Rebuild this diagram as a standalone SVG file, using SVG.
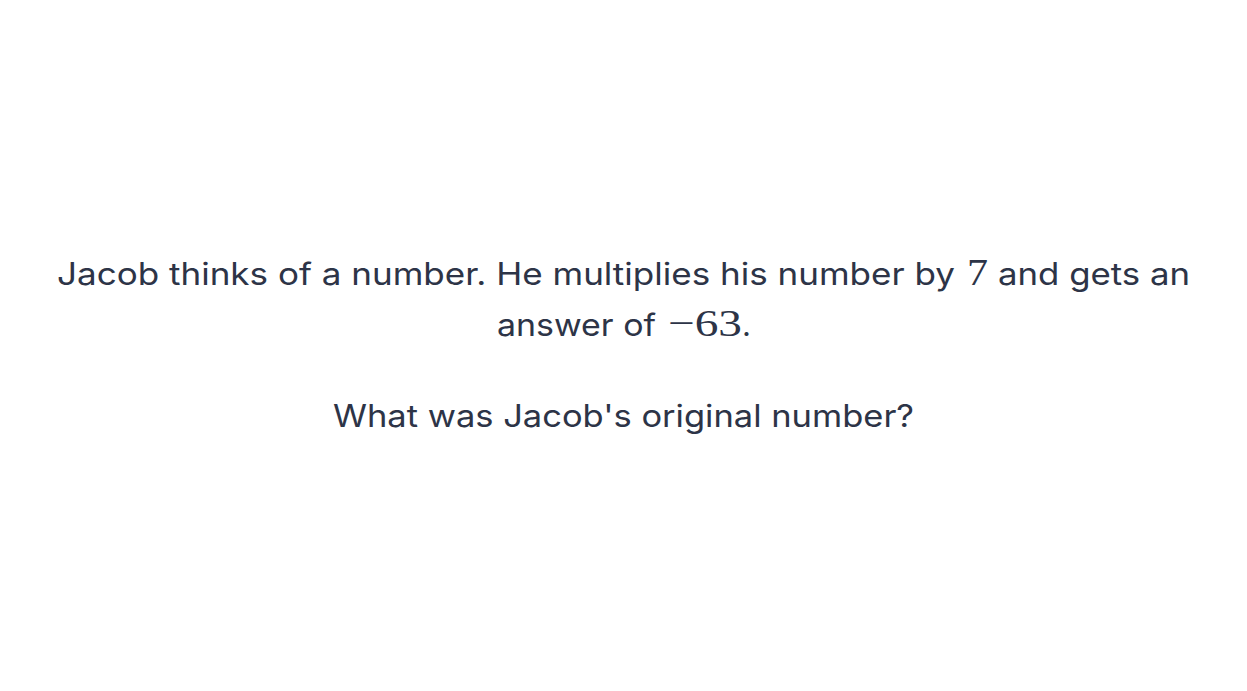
<svg xmlns="http://www.w3.org/2000/svg" width="1247" height="691" viewBox="0 0 1247 691">
<style>
.t{font-family:Inter,"Open Sans","Liberation Sans",sans-serif;font-size:31px;font-weight:400;fill:#2d3447}
.m{font-family:"Liberation Serif","DejaVu Serif",serif;font-size:38px;fill:#2d3447}
</style>
<rect width="1247" height="691" fill="#ffffff"/>
<g id="question">
<text class="t" x="57" y="285" textLength="898" lengthAdjust="spacingAndGlyphs">Jacob thinks of a number. He multiplies his number by</text>
<text class="m" x="967" y="285" textLength="21" lengthAdjust="spacingAndGlyphs">7</text>
<text class="t" x="998" y="285" textLength="192" lengthAdjust="spacingAndGlyphs">and gets an</text>
<text class="t" x="497" y="336" textLength="159" lengthAdjust="spacingAndGlyphs">answer of</text>
<text class="m" x="668" y="336" textLength="74" lengthAdjust="spacingAndGlyphs">−63</text>
<text class="t" x="742" y="336">.</text>
<text class="t" x="333" y="427" textLength="581" lengthAdjust="spacingAndGlyphs">What was Jacob's original number?</text>
</g>
</svg>
